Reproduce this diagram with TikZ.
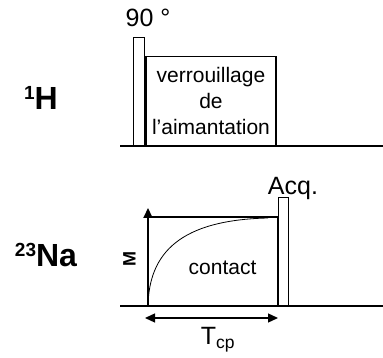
\documentclass[tikz,border=0pt]{standalone}
\usepackage{fontspec}
\setmainfont{Liberation Sans}
\usetikzlibrary{arrows.meta,positioning}
\tikzset{
  axis/.style={
    line width=2pt
  },
  thinline/.style={
    line width=1.3pt
  },
  pulse/.style={
    draw,
    line width=1.3pt,
    inner sep=0pt,
    anchor=south west
  },
  nucleus/.style={
    anchor=base,
    inner sep=0pt,
    font=\fontsize{32}{36}\selectfont\bfseries
  },
  tag/.style={
    anchor=base,
    inner sep=0pt,
    font=\fontsize{25}{28}\selectfont
  },
  boxtext/.style={
    font=\fontsize{21}{26}\selectfont
  },
  dim/.style={
    line width=1.3pt,
    arrows={Triangle[width=9pt,length=10pt]-Triangle[width=9pt,length=10pt]}
  },
}
\newcommand{\iso}[2]{{\fontsize{19}{20}\selectfont\raisebox{10pt}{#1}}#2}

\begin{document}
\begin{tikzpicture}[x=1pt,y=1pt]
  \useasboundingbox (0,0) rectangle (383,358);
  % 1H channel
  \node[nucleus] (H) at (41,248) {\iso{1}{H}};
  \coordinate (h0) at (120,212);
  \coordinate (h1) at (383,212);
  \draw[axis] (h0) -- (h1);
  \node[pulse, minimum width=11pt, minimum height=108pt] (p90) at (133,212) {};
  \node[pulse, boxtext, align=center, minimum width=130pt, minimum height=89pt]
    (lock) at (p90.south east) {verrouillage\\de\\l'aimantation};
  \node[tag] (deg) at (148,331) {90 °};
  % 23Na channel
  \node[nucleus] (Na) at (46,91) {\iso{23}{Na}};
  \coordinate (n0) at (120,52);
  \coordinate (n1) at (383,52);
  \coordinate (t0) at (148,52);
  \coordinate (mtip) at (148,150);
  \coordinate (c0) at (148,141);
  \coordinate (c1) at (278,141);
  \coordinate (c2) at (278,52);
  \coordinate (sat) at (268,140);
  \draw[axis] (n0) -- (n1);
  \draw[thinline] (c0) -- (c1);
  \draw[axis] (c1) -- (c2);
  \draw[axis, -{Triangle[width=9pt,length=10pt]}] (t0) -- (mtip);
  \draw[line width=0.8pt] (t0) .. controls (149,105) and (180,138) .. (sat);
  \node[pulse, minimum width=10pt, minimum height=108pt] (acq) at (c2) {};
  \node[tag] (acqlabel) at (293,163) {Acq.};
  \node[rotate=90, font=\fontsize{18}{20}\selectfont\bfseries] (M) at (129.5,99) {M};
  \node[boxtext, anchor=base] (contact) at (222.5,83) {contact};
  \coordinate (d0) at (145,40);
  \coordinate (d1) at (278,40);
  \draw[dim] (d0) -- (d1);
  \node[tag] (Tcp) at (218,13) {T\textsubscript{cp}};
\end{tikzpicture}
\end{document}
